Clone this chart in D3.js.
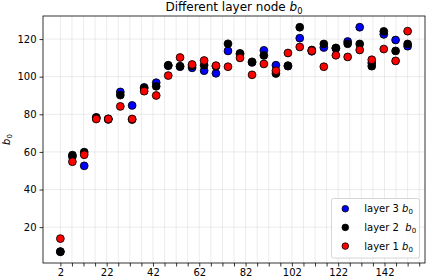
<!DOCTYPE html>
<html>
<head>
<meta charset="utf-8">
<script src="https://cdn.jsdelivr.net/npm/d3@7"></script>
<style>
  body { margin: 0; background: #fff; }
  svg { font-family: "DejaVu Sans", sans-serif; }
</style>
</head>
<body>
<div id="chart"></div>
<script>
// node counts on the x axis
const nodes = [2, 7.2, 12.3, 17.5, 22.7, 27.9, 33.0, 38.2, 43.4, 48.6, 53.7, 58.9, 64.1, 69.2, 74.4,
  79.6, 84.8, 89.9, 95.1, 100.3, 105.4, 110.6, 115.8, 121.0, 126.1, 131.3, 136.5, 141.7, 146.8, 152];

const layer3 = [7.0, 57.5, 52.6, 78.0, 77.3, 91.9, 84.7, 94.3, 96.8, 105.8, 105.3, 104.7, 103.2, 101.8, 113.7,
  112.0, 107.6, 114.0, 106.1, 105.6, 120.5, 113.5, 115.5, 115.0, 118.7, 126.3, 107.3, 122.5, 119.5, 116.2];
const layer2 = [6.9, 58.3, 59.9, 78.4, 77.6, 90.2, 77.2, 93.9, 94.9, 106.1, 105.6, 105.8, 106.1, 105.5, 117.5,
  112.4, 107.9, 111.3, 101.7, 105.9, 126.3, 114.2, 117.4, 115.3, 117.5, 117.4, 105.6, 124.1, 113.7, 117.4];
const layer1 = [13.9, 54.8, 58.5, 77.5, 77.5, 84.2, 77.5, 92.3, 90.0, 100.6, 110.2, 106.5, 108.6, 105.9, 105.3,
  110.0, 101.0, 106.8, 103.2, 112.6, 115.8, 113.8, 105.3, 111.4, 110.5, 114.2, 109.0, 114.7, 108.4, 124.2];

const xTicks = d3.range(2, 158, 5);
const xLabels = [2, 22, 42, 62, 82, 102, 122, 142];
const yTicks = [20, 40, 60, 80, 100, 120];

const series = [
  { name: "layer 3 ", color: "#0000ff", values: layer3 },
  { name: "layer 2  ", color: "#000000", values: layer2 },
  { name: "layer 1 ", color: "#ff0000", values: layer1 }
];

const width = 426, height = 278;
const margin = { top: 16, right: 1, bottom: 15, left: 43 };

const svg = d3.select("#chart").append("svg")
  .attr("width", width)
  .attr("height", height);

// matplotlib-style 5% padding
const allY = layer1.concat(layer2, layer3);
const yMin = d3.min(allY), yMax = d3.max(allY);
const yPad = (yMax - yMin) * 0.05;
const xPad = (d3.max(nodes) - d3.min(nodes)) * 0.05;

const x = d3.scaleLinear()
  .domain([d3.min(nodes) - xPad, d3.max(nodes) + xPad])
  .range([margin.left, width - margin.right]);
const y = d3.scaleLinear()
  .domain([yMin - yPad, yMax + yPad])
  .range([height - margin.bottom, margin.top]);

// grid
svg.append("g")
  .selectAll("line")
  .data(xTicks)
  .join("line")
  .attr("x1", d => x(d)).attr("x2", d => x(d))
  .attr("y1", margin.top).attr("y2", height - margin.bottom)
  .attr("stroke", "#b0b0b0").attr("stroke-opacity", 0.3).attr("stroke-width", 0.8);
svg.append("g")
  .selectAll("line")
  .data(yTicks)
  .join("line")
  .attr("x1", margin.left).attr("x2", width - margin.right)
  .attr("y1", d => y(d)).attr("y2", d => y(d))
  .attr("stroke", "#b0b0b0").attr("stroke-opacity", 0.3).attr("stroke-width", 0.8);

// points
series.forEach(s => {
  svg.append("g")
    .selectAll("circle")
    .data(s.values)
    .join("circle")
    .attr("cx", (d, i) => x(nodes[i]))
    .attr("cy", d => y(d))
    .attr("r", 3.9)
    .attr("fill", s.color)
    .attr("stroke", "#000")
    .attr("stroke-width", 0.9);
});

// axes
const xAxis = svg.append("g")
  .attr("transform", `translate(0,${height - margin.bottom})`)
  .call(d3.axisBottom(x).tickValues(xTicks).tickSize(3.5).tickPadding(2)
    .tickFormat(d => xLabels.includes(d) ? d : ""));
const yAxis = svg.append("g")
  .attr("transform", `translate(${margin.left},0)`)
  .call(d3.axisLeft(y).tickValues(yTicks).tickSize(3.5).tickPadding(3));

[xAxis, yAxis].forEach(a => {
  a.select(".domain").remove();
  a.selectAll(".tick line").attr("stroke", "#000").attr("stroke-width", 0.8);
  a.selectAll(".tick text").attr("font-size", 10).attr("fill", "#000")
    .attr("font-family", "DejaVu Sans, sans-serif");
});

svg.append("rect")
  .attr("x", margin.left).attr("y", margin.top)
  .attr("width", width - margin.right - margin.left)
  .attr("height", height - margin.bottom - margin.top)
  .attr("fill", "none").attr("stroke", "#000").attr("stroke-width", 0.8);

// b_0 helper
function b0(sel, size) {
  sel.append("tspan").attr("font-style", "italic").text("b");
  sel.append("tspan").attr("font-size", size * 0.7).attr("dy", size * 0.22).text("0");
}

const title = svg.append("text")
  .attr("x", (margin.left + width - margin.right) / 2)
  .attr("y", 11)
  .attr("text-anchor", "middle")
  .attr("font-size", 12);
title.append("tspan").text("Different layer node ");
b0(title, 12);

const ylab = svg.append("text")
  .attr("transform", `translate(10,${(margin.top + height - margin.bottom) / 2}) rotate(-90)`)
  .attr("text-anchor", "middle")
  .attr("font-size", 10);
b0(ylab, 10);

// legend
const lg = svg.append("g");
lg.append("rect")
  .attr("x", 331.5).attr("y", 198.5)
  .attr("width", 88).attr("height", 59.5)
  .attr("rx", 2)
  .attr("fill", "#fff").attr("fill-opacity", 0.8)
  .attr("stroke", "#cccccc").attr("stroke-width", 0.8);
series.forEach((s, i) => {
  const cy = 208.7 + i * 18.7;
  lg.append("circle")
    .attr("cx", 345.3).attr("cy", cy).attr("r", 3.3)
    .attr("fill", s.color).attr("stroke", "#000").attr("stroke-width", 0.8);
  const t = lg.append("text")
    .attr("x", 364.3).attr("y", cy + 3.5)
    .attr("font-size", 10)
    .style("white-space", "pre");
  t.append("tspan").text(s.name);
  b0(t, 10);
});
</script>
</body>
</html>
